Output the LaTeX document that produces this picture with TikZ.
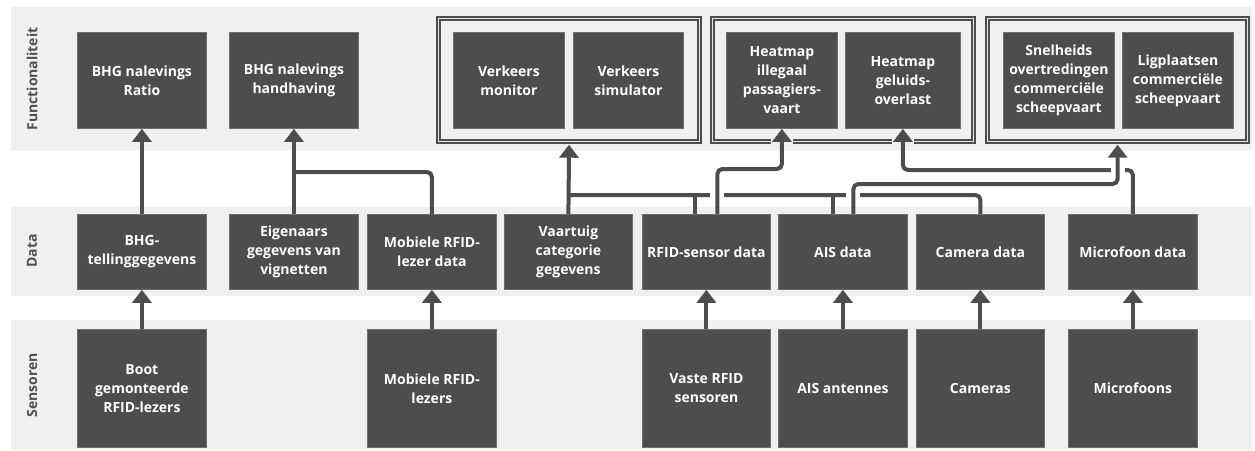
\documentclass[tikz,border=0pt]{standalone}
\usepackage{fontspec}
\setmainfont{Open Sans}
\usetikzlibrary{arrows.meta,calc}

\definecolor{boxgray}{HTML}{4D4D4D}
\definecolor{bandgray}{HTML}{F0F0F0}
\definecolor{edgegray}{HTML}{6E6E6E}
\definecolor{labelgray}{HTML}{505050}
\definecolor{seamgray}{HTML}{E4E4E4}

\tikzset{
  blk/.style={fill=boxgray, draw=edgegray, line width=0.8pt, text=white,
    font=\bfseries\fontsize{14}{19}\selectfont, align=center,
    inner sep=0pt, anchor=north west},
  grp/.style={draw=boxgray, double=seamgray, double distance=0.9pt,
    line width=2.2pt, inner sep=0pt, anchor=north west},
  link/.style={draw=boxgray, line width=4pt, rounded corners=5pt},
  feed/.style={link, -{Triangle[width=19pt,length=13pt]}},
  hop/.style={draw=white, line width=14pt},
  gap/.style={draw=bandgray, line width=8pt},
  band/.style={fill=bandgray},
  rowlabel/.style={rotate=90, text=labelgray,
    font=\bfseries\fontsize{14}{16}\selectfont},
}

% \mkbox{name}{left}{top}{width}{height}{text}
\newcommand\mkbox[6]{%
  \node[blk, minimum width=#4pt, minimum height=#5pt] (#1) at (#2,#3) {#6};}

\begin{document}
\begin{tikzpicture}[x=1pt, y=-1pt]
\useasboundingbox (0,0) rectangle (1255,450);

% row bands
\fill[band] (11,7) rectangle (1252,151);
\fill[band] (11,207) rectangle (1252,296);
\fill[band] (11,320) rectangle (1252,450);

\node[rowlabel] (lf) at (32,79) {Functionaliteit};
\node[rowlabel] (ld) at (32,251) {Data};
\node[rowlabel] (ls) at (32,385) {Sensoren};

% group frames
\node[grp, minimum width=261pt, minimum height=123pt] (g1) at (437.5,17.5) {};
\node[grp, minimum width=261pt, minimum height=123pt] (g2) at (711.5,17.5) {};
\node[grp, minimum width=260pt, minimum height=123pt] (g3) at (986.5,17.5) {};

% functionality
\mkbox{fr}{77}{32}{129}{96}{BHG nalevings\\Ratio}
\mkbox{fh}{229}{32}{129}{96}{BHG nalevings\\handhaving}
\mkbox{fvm}{453}{32}{111}{96}{Verkeers\\monitor}
\mkbox{fvs}{573}{32}{110}{96}{Verkeers\\simulator}
\mkbox{fhi}{726}{32}{111}{96}{Heatmap\\illegaal\\passagiers-\\vaart}
\mkbox{fhg}{845}{32}{115}{96}{Heatmap\\geluids-\\overlast}
\mkbox{fso}{1003}{32}{111}{96}{Snelheids\\overtredingen\\commerciële\\scheepvaart}
\mkbox{flc}{1122}{32}{111}{96}{Ligplaatsen\\commerciële\\scheepvaart}

% data
\mkbox{d1}{77}{214}{129}{75}{BHG-\\tellinggegevens}
\mkbox{d2}{229}{214}{129}{75}{Eigenaars\\gegevens van\\vignetten}
\mkbox{d3}{367}{214}{129}{75}{Mobiele RFID-\\lezer data}
\mkbox{d4}{504}{214}{128}{75}{Vaartuig\\categorie\\gegevens}
\mkbox{d5}{642}{214}{128}{75}{RFID-sensor data}
\mkbox{d6}{778}{214}{129}{75}{AIS data}
\mkbox{d7}{916}{214}{128}{75}{Camera data}
\mkbox{d8}{1068}{214}{129}{75}{Microfoon data}

% sensors
\mkbox{s1}{77}{329}{129}{118}{Boot\\gemonteerde\\RFID-lezers}
\mkbox{s3}{367}{329}{129}{118}{Mobiele RFID-\\lezers}
\mkbox{s5}{642}{329}{128}{118}{Vaste RFID\\sensoren}
\mkbox{s6}{778}{329}{129}{118}{AIS antennes}
\mkbox{s7}{916}{329}{128}{118}{Cameras}
\mkbox{s8}{1068}{329}{129}{118}{Microfoons}

% rails between data and functionality
\coordinate (yA) at (0,169);
\coordinate (yB) at (0,172);
\coordinate (yC) at (0,170);
\coordinate (yD) at (0,184);
\coordinate (bus) at (0,195);
\coordinate (d5a) at ($(d5.north)+(-11,0)$);
\coordinate (d5b) at ($(d5.north)+(11,0)$);
\coordinate (d6a) at ($(d6.north)+(-10,0)$);
\coordinate (d6b) at ($(d6.north)+(10.5,0)$);

% sensors -> data
\draw[feed] (s1.north) -- (d1.south);
\draw[feed] (s3.north) -- (d3.south);
\draw[feed] (s5.north) -- (d5.south);
\draw[feed] (s6.north) -- (d6.south);
\draw[feed] (s7.north) -- (d7.south);
\draw[feed] (s8.north) -- (d8.south);

% BHG column
\draw[feed] (d1.north) -- (fr.south);
\draw[link] (d3.north) |- (d2.north |- yB);
\draw[feed] (d2.north) -- (fh.south);

% traffic bus into the first group
\draw[link] (d7.north) |- (d4.north |- bus);
\draw[link] (d6a) -- (d6a |- bus);
\draw[link] (d5a) -- (d5a |- bus);
\draw[feed, shorten >=2pt] (d4.north) -- (g1.south);

% microphones -> noise heatmap
\draw[gap] ($(g2.south -| fhg.south)+(-11,0)$) -- ++(22,0);
\draw[feed] (d8.north) |- (fhg.south |- yC) -- (fhg.south);

% RFID sensors -> passenger heatmap
\draw[gap] ($(g2.south -| fhi.south)+(-11,0)$) -- ++(22,0);
\draw[hop] ($(d5b |- bus)+(0,-6)$) -- ++(0,12);
\draw[feed] (d5b) |- (fhi.south |- yA) -- (fhi.south);

% AIS -> commercial shipping group
\draw[hop] ($(d6b |- bus)+(0,-6)$) -- ++(0,12);
\draw[hop] ($(g3.south |- yC)+(0,-6)$) -- ++(0,12);
\draw[feed, shorten >=2pt] (d6b) |- (g3.south |- yD) -- (g3.south);

\end{tikzpicture}
\end{document}
